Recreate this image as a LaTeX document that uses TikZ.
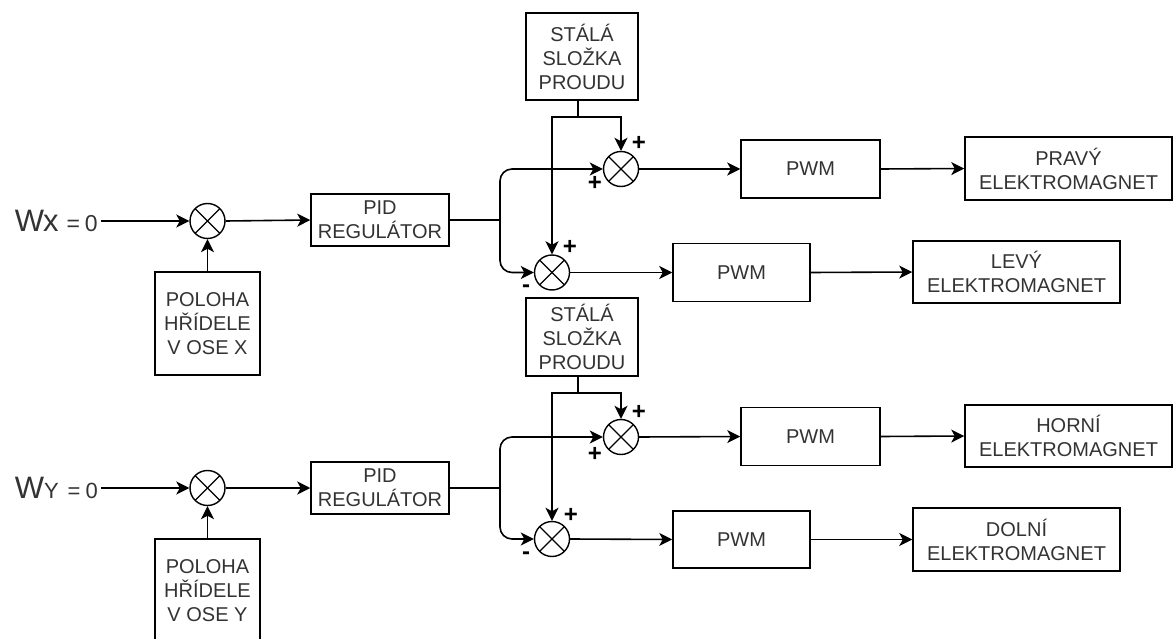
\documentclass[tikz,border=0pt]{standalone}
\usepackage{fontspec}
\setmainfont{Liberation Sans}
\usetikzlibrary{arrows.meta,calc}
\begin{document}
\begin{tikzpicture}[x=1pt,y=-1pt,
  box/.style={draw, line width=1.5pt, align=center, text=black!80, font=\fontsize{20}{24}\selectfont, inner sep=0pt},
  sumnode/.style={circle, draw, line width=1.4pt, minimum size=35pt, inner sep=0pt,
    path picture={\draw[line width=1.1pt] (path picture bounding box.center) ++(45:17.5pt) -- ++(225:35pt);
                  \draw[line width=1.1pt] (path picture bounding box.center) ++(135:17.5pt) -- ++(-45:35pt);}},
  arr/.style={line width=1.6pt, -{Stealth[length=13pt,width=13pt,inset=3.5pt]}},
  ln/.style={line width=1.6pt},
  sgn/.style={font=\fontsize{24}{24}\selectfont\bfseries, inner sep=0pt}
]
\useasboundingbox (0,0) rectangle (1173,639);

% ---------- section X ----------
\node[anchor=east, inner sep=3pt, text=black!80] (wx) at (101,221)
  {{\fontsize{31}{31}\selectfont W\kern-1pt x}{\fontsize{23}{23}\selectfont\hspace{8pt}=\hspace{5pt}0}};
\node[sumnode] (s0a) at (207.5,221) {};
\node[box, minimum width=105pt, minimum height=103pt] (pol1) at (207.5,323.5) {POLOHA\\HŘÍDELE\\V OSE X};
\node[box, minimum width=138pt, minimum height=52pt] (pid1) at (380,220) {PID\\REGULÁTOR};
\node[box, minimum width=112pt, minimum height=87pt] (st1) at (582,56.5) {STÁLÁ\\SLOŽKA\\PROUDU};
\node[sumnode] (sA1) at (621,169) {};
\node[sumnode] (sB1) at (552,272.5) {};
\node[box, minimum width=139pt, minimum height=58pt] (pwmA1) at (810.5,169) {PWM};
\node[box, minimum width=207pt, minimum height=63pt] (pravy) at (1068.5,168.5) {PRAVÝ\\ELEKTROMAGNET};
\node[box, minimum width=137pt, minimum height=58pt] (pwmB1) at (741.5,272.5) {PWM};
\node[box, minimum width=207pt, minimum height=62pt] (levy) at (1016.5,272) {LEVÝ\\ELEKTROMAGNET};

\coordinate (j1) at (500,220);
\coordinate (k1) at (578,117);

\draw[arr] (wx.east) -- (s0a.west);
\draw[arr] (pol1.north) -- (s0a.south);
\draw[arr] (s0a.east) -- (pid1.west);
\draw[ln] (pid1.east) -- (j1);
\draw[arr, rounded corners=12pt] (j1) |- (sA1.west);
\draw[arr, rounded corners=12pt] (j1) |- (sB1.west);
\draw[ln] (st1.south -| k1) -- (k1);
\draw[arr] (k1) -| (sA1.north);
\draw[arr] (k1) -| (sB1.north);
\draw[arr] (sA1.east) -- (pwmA1.west);
\draw[arr] (pwmA1.east) -- (pravy.west);
\draw[arr] (sB1.east) -- (pwmB1.west);
\draw[arr] (pwmB1.east) -- (levy.west);

\node[sgn] (pA1) at ($(sA1)+(18,-26)$) {+};
\node[sgn] (qA1) at ($(sA1)+(-26,14)$) {+};
\node[sgn] (pB1) at ($(sB1)+(18,-25)$) {+};
\node[sgn] (qB1) at ($(sB1)+(-26,16)$) {-};

% ---------- section Y ----------
\node[anchor=east, inner sep=3pt, text=black!80] (wy) at (101,488)
  {{\fontsize{31}{31}\selectfont W}{\fontsize{22}{22}\selectfont Y\hspace{9pt}=\hspace{5pt}0}};
\node[sumnode] (s0b) at (207.5,488) {};
\node[box, minimum width=105pt, minimum height=103pt] (pol2) at (207.5,590.5) {POLOHA\\HŘÍDELE\\V OSE Y};
\node[box, minimum width=138pt, minimum height=52pt] (pid2) at (380,488) {PID\\REGULÁTOR};
\node[box, minimum width=112pt, minimum height=78pt] (st2) at (582,337) {STÁLÁ\\SLOŽKA\\PROUDU};
\node[sumnode] (sA2) at (621,437) {};
\node[sumnode] (sB2) at (552,539) {};
\node[box, minimum width=139pt, minimum height=58pt] (pwmA2) at (810.5,436.5) {PWM};
\node[box, minimum width=207pt, minimum height=62pt] (horni) at (1068.5,436) {HORNÍ\\ELEKTROMAGNET};
\node[box, minimum width=137pt, minimum height=57pt] (pwmB2) at (741.5,539.5) {PWM};
\node[box, minimum width=207pt, minimum height=63pt] (dolni) at (1016.5,539.5) {DOLNÍ\\ELEKTROMAGNET};

\coordinate (j2) at (500,488);
\coordinate (k2) at (578,393);

\draw[arr] (wy.east) -- (s0b.west);
\draw[arr] (pol2.north) -- (s0b.south);
\draw[arr] (s0b.east) -- (pid2.west);
\draw[ln] (pid2.east) -- (j2);
\draw[arr, rounded corners=12pt] (j2) |- (sA2.west);
\draw[arr, rounded corners=12pt] (j2) |- (sB2.west);
\draw[ln] (st2.south -| k2) -- (k2);
\draw[arr] (k2) -| (sA2.north);
\draw[arr] (k2) -| (sB2.north);
\draw[arr] (sA2.east) -- (pwmA2.west);
\draw[arr] (pwmA2.east) -- (horni.west);
\draw[arr] (sB2.east) -- (pwmB2.west);
\draw[arr] (pwmB2.east) -- (dolni.west);

\node[sgn] (pA2) at ($(sA2)+(18,-25)$) {+};
\node[sgn] (qA2) at ($(sA2)+(-26,17)$) {+};
\node[sgn] (pB2) at ($(sB2)+(19,-24)$) {+};
\node[sgn] (qB2) at ($(sB2)+(-26,17)$) {-};
\end{tikzpicture}
\end{document}
